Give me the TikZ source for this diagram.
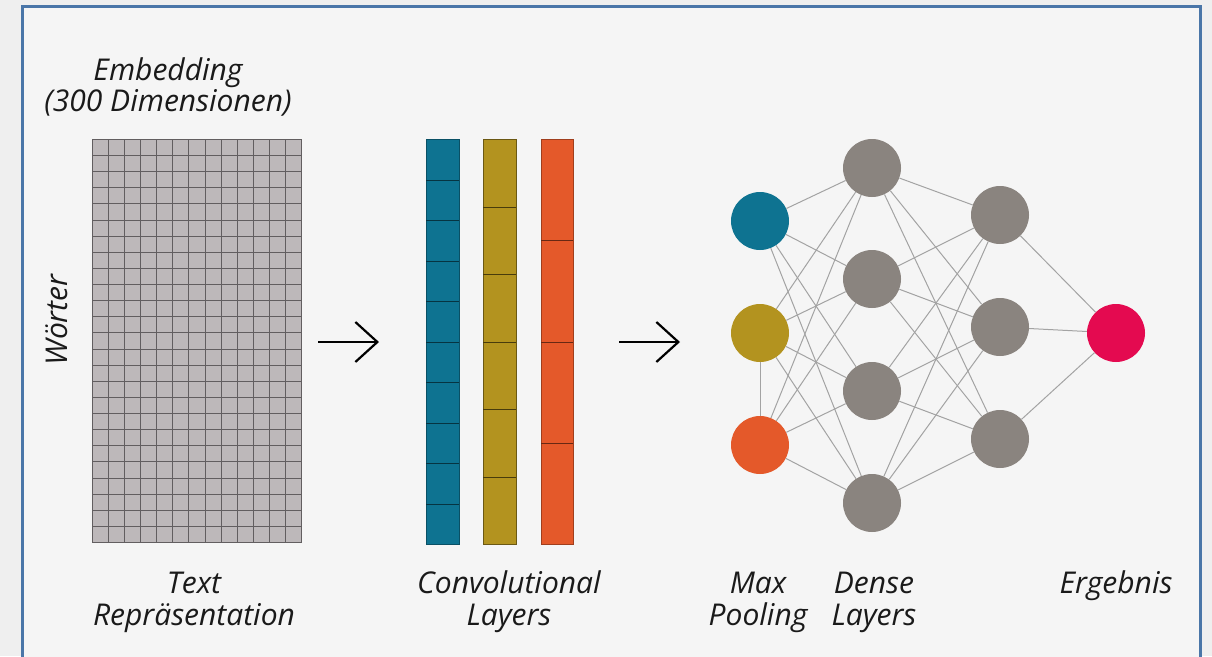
\documentclass[tikz,border=0pt]{standalone}
\usepackage{fontspec}
\setmainfont{Open Sans}
\usetikzlibrary{arrows.meta}
\definecolor{pagebg}{HTML}{EFEFEF}
\definecolor{panelbg}{HTML}{F5F5F5}
\definecolor{framecol}{HTML}{4A76A8}
\definecolor{gridfill}{HTML}{BDB8BA}
\definecolor{gridline}{HTML}{625E60}
\definecolor{cblue}{HTML}{0E7391}
\definecolor{cmust}{HTML}{B3931F}
\definecolor{corange}{HTML}{E4592A}
\definecolor{cgray}{HTML}{8A847F}
\definecolor{cpink}{HTML}{E40A50}
\definecolor{edgecol}{HTML}{A3A3A3}
\definecolor{textcol}{HTML}{1A1A1A}
\begin{document}
\begin{tikzpicture}[x=1pt,y=-1pt,
  lbl/.style={font=\itshape\fontsize{30}{32}\selectfont, text=textcol, inner sep=0pt, anchor=base},
  neuron/.style={circle, minimum size=58pt, inner sep=0pt, draw=none},
  link/.style={edgecol, line width=1pt},
  bar/.style={line width=0.8pt},
  cellline/.style={gridline, line width=1.2pt},
  flow/.style={line width=2.2pt, -{Straight Barb[length=22pt, width=40pt, line width=2.2pt]}}
]
\useasboundingbox (0,0) rectangle (1212,656);
% page and framed panel
\fill[pagebg] (0,0) rectangle (1212,656);
\fill[panelbg] (22,6) rectangle (1200,670);
\draw[framecol, line width=3pt] (22,6) rectangle (1200,670);

% text representation: word x embedding matrix (13 x 25 cells)
\fill[gridfill] (92,139) rectangle (301,543);
\foreach \i in {0,...,13} {
  \pgfmathsetmacro\gx{round(92+\i*16.077)+0.5}
  \draw[cellline] (\gx,139) -- (\gx,543);
}
\foreach \j in {0,...,25} {
  \pgfmathsetmacro\gy{round(139+\j*16.12)+0.5}
  \draw[cellline] (92,\gy) -- (301,\gy);
}

% convolutional layers
\draw[bar, fill=cblue, draw=cblue!70!black] (426,139) rectangle (459,544);
\foreach \k in {1,...,9} {
  \pgfmathsetmacro\cy{round(139+\k*40.5)+0.5}
  \draw[cblue!45!black, line width=1pt] (426,\cy) -- (459,\cy);
}
\draw[bar, fill=cmust, draw=cmust!60!black] (483,139) rectangle (516,544);
\foreach \k in {1,...,5} {
  \pgfmathsetmacro\cy{round(139+\k*67.5)+0.5}
  \draw[cmust!40!black, line width=1pt] (483,\cy) -- (516,\cy);
}
\draw[bar, fill=corange, draw=corange!70!black] (541,139) rectangle (573,544);
\foreach \k in {1,...,3} {
  \pgfmathsetmacro\cy{round(139+\k*101.25)+0.5}
  \draw[corange!45!black, line width=1pt] (541,\cy) -- (573,\cy);
}

% flow arrows
\coordinate (f1s) at (318,342);
\coordinate (f1e) at (379,342);
\coordinate (f2s) at (619,342);
\coordinate (f2e) at (680,342);
\draw[flow] (f1s) -- (f1e);
\draw[flow] (f2s) -- (f2e);

% network neurons
\node[neuron, fill=cblue]   (p1) at (760,221) {};
\node[neuron, fill=cmust]   (p2) at (760,333) {};
\node[neuron, fill=corange] (p3) at (760,445) {};
\node[neuron, fill=cgray] (d1) at (872,168) {};
\node[neuron, fill=cgray] (d2) at (872,279) {};
\node[neuron, fill=cgray] (d3) at (872,391) {};
\node[neuron, fill=cgray] (d4) at (872,503) {};
\node[neuron, fill=cgray] (e1) at (1000,215) {};
\node[neuron, fill=cgray] (e2) at (1000,327) {};
\node[neuron, fill=cgray] (e3) at (1000,439) {};
\node[neuron, fill=cpink] (out) at (1116,333) {};

% connections
\foreach \a in {p1,p2,p3} {
  \foreach \b in {d1,d2,d3,d4} {
    \draw[link] (\a) -- (\b);
  }
}
\foreach \a in {d1,d2,d3,d4} {
  \foreach \b in {e1,e2,e3} {
    \draw[link] (\a) -- (\b);
  }
}
\foreach \a in {e1,e2,e3} {
  \draw[link] (\a) -- (out);
}
\draw[link] (p2) -- (p3);

% labels
\node[lbl] (embA) at (168,80) {Embedding};
\node[lbl] (embB) at (168,111) {(300 Dimensionen)};
\node[lbl, anchor=center, rotate=90] (words) at (57,320) {Wörter};
\node[lbl] (txtA) at (194,593) {Text};
\node[lbl] (txtB) at (194,625) {Repräsentation};
\node[lbl] (convA) at (509,593) {Convolutional};
\node[lbl] (convB) at (509,625) {Layers};
\node[lbl] (poolA) at (758,593) {Max};
\node[lbl] (poolB) at (758,625) {Pooling};
\node[lbl] (denseA) at (874,593) {Dense};
\node[lbl] (denseB) at (874,625) {Layers};
\node[lbl] (res) at (1116,593) {Ergebnis};
\end{tikzpicture}
\end{document}
